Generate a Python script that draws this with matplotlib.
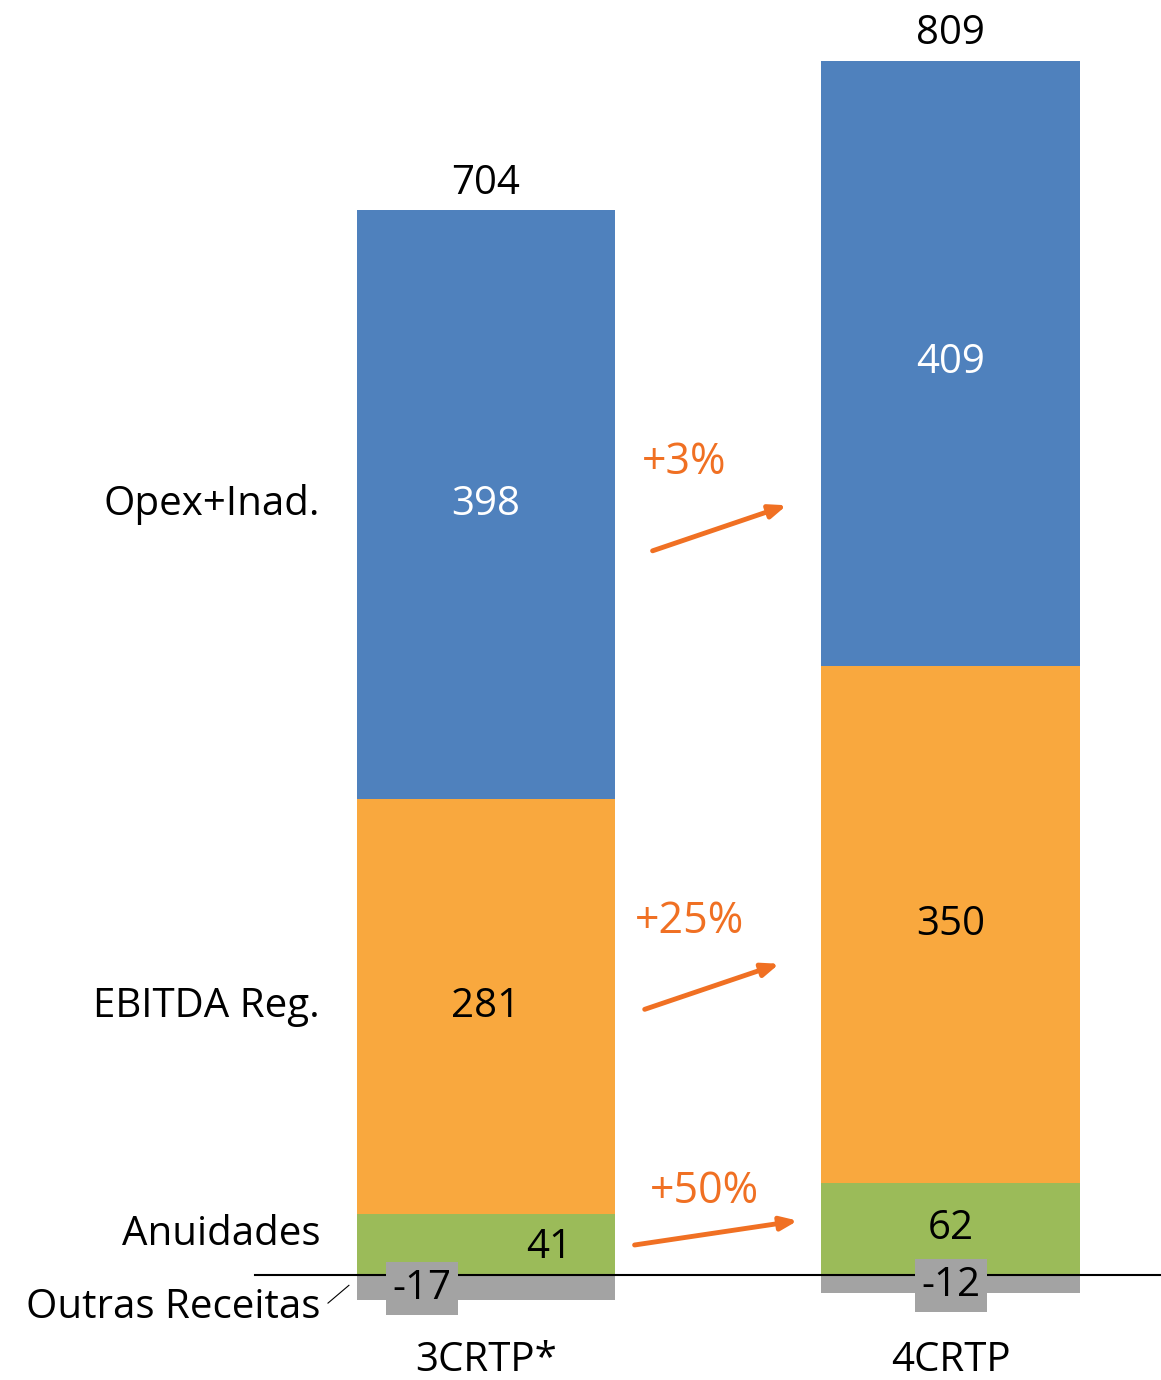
import numpy as np
import matplotlib.pyplot as plt

plt.rcParams['font.family'] = ['Open Sans', 'DejaVu Sans']

categories = ['3CRTP*', '4CRTP']
outras = np.array([-17, -12])
anuidades = np.array([41, 62])
ebitda = np.array([281, 350])
opex = np.array([398, 409])
totals = [704, 809]
row_labels = ['Opex+Inad.', 'EBITDA Reg.', 'Anuidades', 'Outras Receitas']
growth = ['+3%', '+25%', '+50%']

c_blue = '#4F81BD'
c_orange = '#F9A83E'
c_green = '#9BBB59'
c_gray = '#A3A3A3'
c_arrow = '#F07023'

fig = plt.figure(figsize=(11.61, 13.8), dpi=100)
ax = fig.add_axes([0, 0, 1, 1])
ax.set_xlim(-1.046, 1.453)
ax.set_ylim(-71, 862)
ax.axis('off')

x = np.arange(len(categories))
w = 0.556
ax.bar(x, outras, w, color=c_gray, zorder=2)
ax.bar(x, anuidades, w, color=c_green, zorder=2)
ax.bar(x, ebitda, w, bottom=anuidades, color=c_orange, zorder=2)
ax.bar(x, opex, w, bottom=anuidades + ebitda, color=c_blue, zorder=2)
ax.plot([-0.497, 1.453], [0, 0], color='black', lw=1.5, zorder=3)

fs = 29
for i in range(len(categories)):
    top = anuidades[i] + ebitda[i] + opex[i]
    ax.text(x[i], top + 18, str(totals[i]), ha='center', va='center', fontsize=fs)
    ax.text(x[i], anuidades[i] + ebitda[i] + opex[i] / 2, str(opex[i]), ha='center', va='center',
            fontsize=fs, color='white')
    ax.text(x[i], anuidades[i] + ebitda[i] / 2, str(ebitda[i]), ha='center', va='center', fontsize=fs)
    ax.text(x[i], -58, categories[i], ha='center', va='center', fontsize=fs)

# anuidades labels (first one offset to the right)
ax.text(x[0] + 0.137, anuidades[0] / 2 - 2, str(anuidades[0]), ha='center', va='center', fontsize=fs)
ax.text(x[1], anuidades[1] / 2, str(anuidades[1]), ha='center', va='center', fontsize=fs)

# negative labels in gray boxes
box = dict(boxstyle='square,pad=0.16', fc=c_gray, ec='none')
ax.text(x[0] - 0.138, outras[0] + 8, str(outras[0]), ha='center', va='center', fontsize=fs,
        bbox=box, zorder=4)
ax.text(x[1], outras[1] + 5, str(outras[1]), ha='center', va='center', fontsize=fs,
        bbox=box, zorder=4)

# row labels on the left
lx = -0.357
ax.text(lx, anuidades[0] + ebitda[0] + opex[0] / 2, row_labels[0], ha='right', va='center', fontsize=fs)
ax.text(lx, anuidades[0] + ebitda[0] / 2, row_labels[1], ha='right', va='center', fontsize=fs)
ax.text(lx, 27, row_labels[2], ha='right', va='center', fontsize=fs)
ax.text(lx, -22, row_labels[3], ha='right', va='center', fontsize=fs)
ax.plot([-0.340, -0.295], [-19, -7], color='black', lw=0.8)

# growth arrows
arrows = [((0.353, 489), (0.653, 521), (0.427, 549)),
          ((0.336, 179), (0.637, 211), (0.439, 239)),
          ((0.314, 20), (0.677, 37), (0.470, 56))]
for (p0, p1, pt), g in zip(arrows, growth):
    ax.annotate('', xy=p1, xytext=p0,
                arrowprops=dict(arrowstyle='-|>,head_length=1.0,head_width=0.4', color=c_arrow, lw=3.5))
    ax.text(pt[0], pt[1], g, ha='center', va='center', fontsize=31, color=c_arrow)

fig.savefig('out.png', dpi=100)
